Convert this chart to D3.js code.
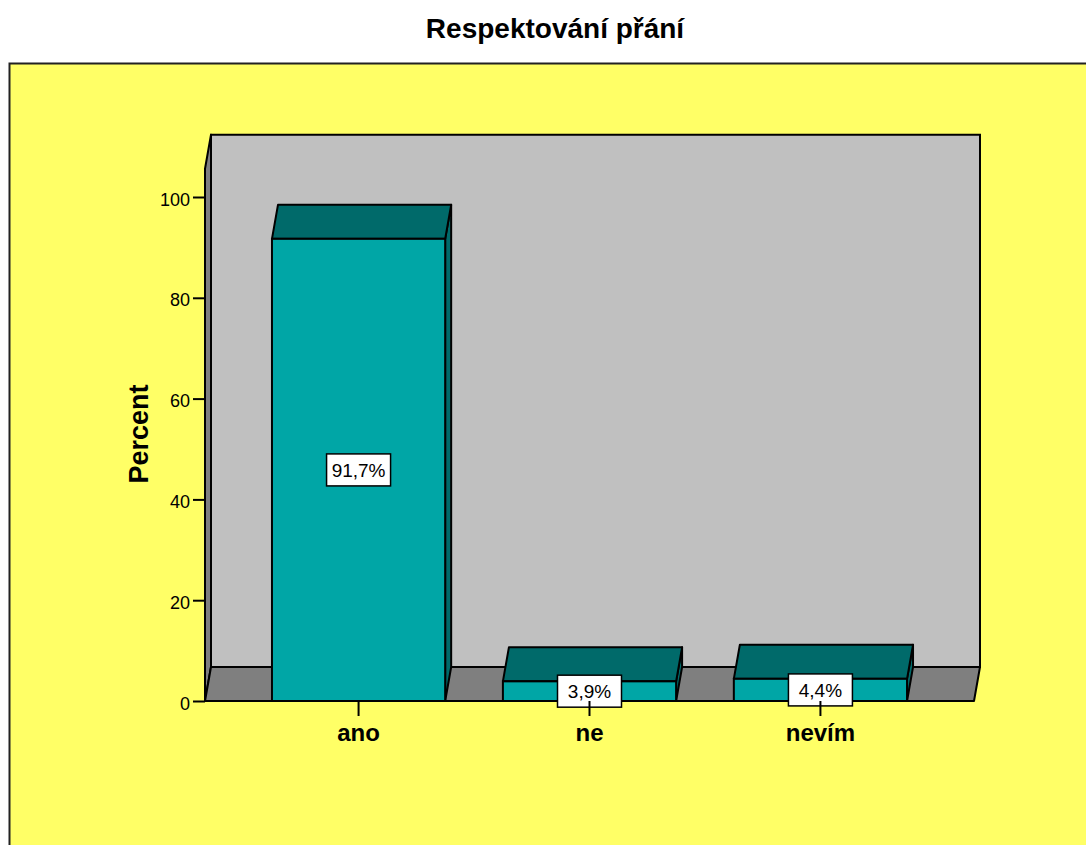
<!DOCTYPE html>
<html>
<head>
<meta charset="utf-8">
<script src="https://cdn.jsdelivr.net/npm/d3@7/dist/d3.min.js"></script>
<style>
  html, body { margin: 0; padding: 0; background: #ffffff; }
  svg { display: block; font-family: "Liberation Sans", Arial, sans-serif; }
</style>
</head>
<body>
<svg id="chart" width="1086" height="845"></svg>
<script>
// Data
const categories = ["ano", "ne", "nevím"];
const percents = [91.7, 3.9, 4.4];
const valueLabels = ["91,7%", "3,9%", "4,4%"];
const yTicks = [0, 20, 40, 60, 80, 100];
const chartTitle = "Respektování přání";
const yTitle = "Percent";

const svg = d3.select("#chart");
const W = 1086, H = 845;

// 3D depth offset of the back wall
const depth = { dx: 6, dy: -34 };
const wallTopValue = 105.6;

const x = d3.scaleBand()
  .domain(categories)
  .range([205, 974])
  .paddingInner(0.25)
  .paddingOuter(0.29);

const y = d3.scaleLinear()
  .domain([0, 100])
  .range([701, 197]);

const colors = {
  panel: "#FFFF66",
  wall: "#C0C0C0",
  floor: "#7F7F7F",
  front: "#00A6A6",
  top: "#006A6A",
  side: "#006A6A"
};

// Outer panel
svg.append("rect")
  .attr("x", 9.5).attr("y", 63.5)
  .attr("width", W).attr("height", H)
  .attr("fill", colors.panel)
  .attr("stroke", "#222").attr("stroke-width", 2);

// Title
svg.append("text")
  .attr("x", 555).attr("y", 38)
  .attr("text-anchor", "middle")
  .attr("font-size", 28).attr("font-weight", "bold")
  .text(chartTitle);

const x0 = x.range()[0], x1 = x.range()[1];
const yBase = y(0), yTop = y(wallTopValue);
const line = d3.line();

// Back wall
svg.append("path")
  .attr("d", line([
    [x0 + depth.dx, yTop + depth.dy], [x1 + depth.dx, yTop + depth.dy],
    [x1 + depth.dx, yBase + depth.dy], [x0 + depth.dx, yBase + depth.dy]
  ]) + "Z")
  .attr("fill", colors.wall).attr("stroke", "#000").attr("stroke-width", 2);

// Left wall
svg.append("path")
  .attr("d", line([
    [x0, yTop], [x0 + depth.dx, yTop + depth.dy],
    [x0 + depth.dx, yBase + depth.dy], [x0, yBase]
  ]) + "Z")
  .attr("fill", colors.floor).attr("stroke", "#000").attr("stroke-width", 2)
  .attr("stroke-linejoin", "round");

// Floor
svg.append("path")
  .attr("d", line([
    [x0, yBase], [x0 + depth.dx, yBase + depth.dy],
    [x1 + depth.dx, yBase + depth.dy], [x1, yBase]
  ]) + "Z")
  .attr("fill", colors.floor).attr("stroke", "#000").attr("stroke-width", 2)
  .attr("stroke-linejoin", "round");

// Bars
const bars = svg.append("g").selectAll("g")
  .data(categories.map((c, i) => ({ c, v: percents[i], label: valueLabels[i] })))
  .join("g");

bars.append("path") // side face
  .attr("d", d => {
    const xa = x(d.c) + x.bandwidth(), yt = y(d.v);
    return line([[xa, yt], [xa + depth.dx, yt + depth.dy], [xa + depth.dx, yBase + depth.dy], [xa, yBase]]) + "Z";
  })
  .attr("fill", colors.side).attr("stroke", "#000").attr("stroke-width", 2)
  .attr("stroke-linejoin", "round");

bars.append("path") // top face
  .attr("d", d => {
    const xa = x(d.c), xb = xa + x.bandwidth(), yt = y(d.v);
    return line([[xa, yt], [xa + depth.dx, yt + depth.dy], [xb + depth.dx, yt + depth.dy], [xb, yt]]) + "Z";
  })
  .attr("fill", colors.top).attr("stroke", "#000").attr("stroke-width", 2)
  .attr("stroke-linejoin", "round");

bars.append("rect") // front face
  .attr("x", d => x(d.c))
  .attr("y", d => y(d.v))
  .attr("width", x.bandwidth())
  .attr("height", d => yBase - y(d.v))
  .attr("fill", colors.front).attr("stroke", "#000").attr("stroke-width", 2);

// Y axis ticks and labels
const yAxis = svg.append("g")
  .attr("transform", `translate(${x0},0)`)
  .call(d3.axisLeft(y).tickValues(yTicks).tickSize(12).tickPadding(3).tickFormat(d3.format("d")));
yAxis.select(".domain").remove();
yAxis.selectAll(".tick line").attr("stroke", "#000").attr("stroke-width", 2);
yAxis.selectAll(".tick text")
  .attr("font-size", 18).attr("font-family", "Liberation Sans, Arial, sans-serif")
  .attr("fill", "#000").attr("dy", "0.45em");

// X axis ticks and labels
const xAxis = svg.append("g")
  .attr("transform", `translate(0,${yBase})`)
  .call(d3.axisBottom(x).tickSize(15).tickPadding(8));
xAxis.select(".domain").remove();
xAxis.selectAll(".tick line").attr("stroke", "#000").attr("stroke-width", 2);
xAxis.selectAll(".tick text")
  .attr("font-size", 24).attr("font-weight", "bold")
  .attr("font-family", "Liberation Sans, Arial, sans-serif")
  .attr("fill", "#000");

// Y axis title
svg.append("text")
  .attr("transform", "translate(148,434) rotate(-90)")
  .attr("text-anchor", "middle")
  .attr("font-size", 27).attr("font-weight", "bold")
  .text(yTitle);

// Value labels in boxes at half the bar height
const labels = bars.append("g")
  .attr("transform", d => `translate(${x(d.c) + x.bandwidth() / 2},${y(d.v / 2)})`);
labels.append("rect")
  .attr("x", -32).attr("y", -16)
  .attr("width", 64).attr("height", 32)
  .attr("fill", "#fff").attr("stroke", "#000").attr("stroke-width", 1.5);
labels.append("text")
  .attr("text-anchor", "middle")
  .attr("dy", "0.36em")
  .attr("font-size", 19)
  .text(d => d.label);
</script>
</body>
</html>
